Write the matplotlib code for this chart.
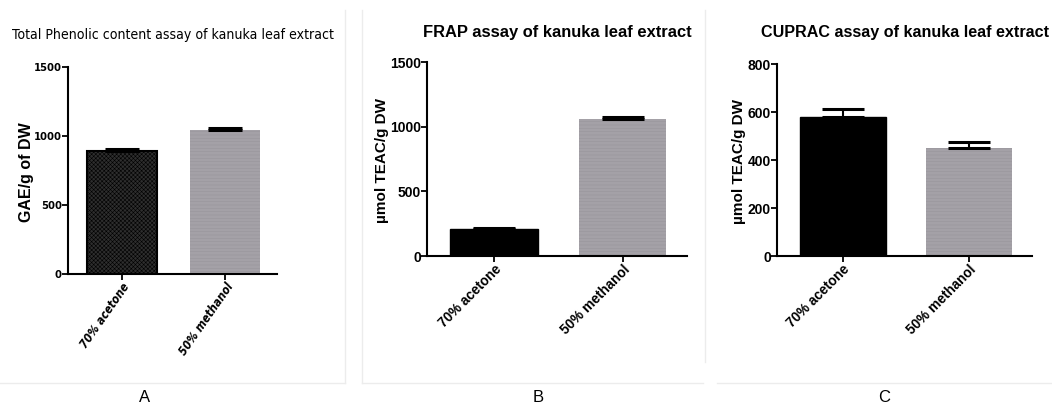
import matplotlib
matplotlib.use('Agg')
import matplotlib.pyplot as plt
from matplotlib.lines import Line2D

# data
groups = ['70% acetone', '50% methanol']
tpc_mean = [893, 1043]
tpc_err = [10, 13]
frap_mean = [207, 1057]
frap_err = [8, 20]
cuprac_mean = [580, 452]
cuprac_err = [32, 21]

dark = '#2e2e2e'
gray = '#a4a1a7'

W, H = 1052, 405
fig = plt.figure(figsize=(W / 100, H / 100), dpi=100)
plt.rcParams['hatch.linewidth'] = 0.4

def px_axes(x0, y0, x1, y1):
    # axes from pixel box (top-left origin)
    return fig.add_axes([x0 / W, 1 - y1 / H, (x1 - x0) / W, (y1 - y0) / H])

def style_axes(ax, ymax, yticks, tickfont, ticksize, rot, xfont, xsize, xstyle, stretch='normal'):
    for s in ['top', 'right']:
        ax.spines[s].set_visible(False)
    for s in ['left', 'bottom']:
        ax.spines[s].set_linewidth(1.5)
    ax.set_xlim(-0.52, 1.5)
    ax.set_ylim(0, ymax)
    ax.set_yticks(yticks)
    ax.set_xticks([0, 1])
    ax.tick_params(axis='both', direction='out', width=1.3, length=4, pad=0.5)
    ax.set_yticklabels([str(t) for t in yticks], family=tickfont, fontsize=ticksize,
                       fontweight='bold', fontstretch=stretch)
    ax.set_xticklabels(groups, rotation=rot, ha='right', rotation_mode='anchor',
                       family=xfont, fontsize=xsize, fontweight='bold', style=xstyle,
                       fontstretch=stretch)

cond = ['DejaVu Sans']
sans = ['Liberation Sans', 'DejaVu Sans']

# panel A
axA = px_axes(68, 67, 277, 274)
axA.bar([0], tpc_mean[:1], width=0.68, color=dark, edgecolor='black', linewidth=1.5,
        hatch='xxxxxxxx')
axA.bar([1], tpc_mean[1:], width=0.68, color=gray, edgecolor='#98959b', linewidth=0,
        hatch='-----')
axA.errorbar([0, 1], tpc_mean, yerr=[[0, 0], tpc_err], fmt='none', ecolor='black',
             elinewidth=1.5, capsize=12, capthick=2.2)
style_axes(axA, 1500, [0, 500, 1000, 1500], cond, 8, 55, cond, 8.5, 'italic', 'condensed')
axA.set_ylabel('GAE/g of DW', family=sans, fontsize=11.5, fontweight='bold')
axA.yaxis.set_label_coords(-0.165, 0.49)

# panel B
axB = px_axes(427, 62, 687, 256)
axB.bar([0], frap_mean[:1], width=0.68, color='black', edgecolor='black')
axB.bar([1], frap_mean[1:], width=0.68, color=gray, edgecolor='#98959b', linewidth=0,
        hatch='-----')
axB.errorbar([0, 1], frap_mean, yerr=[[0, 0], frap_err], fmt='none', ecolor='black',
             elinewidth=1.5, capsize=15, capthick=2.2)
style_axes(axB, 1500, [0, 500, 1000, 1500], sans, 10, 45, sans, 9.8, 'normal')
axB.set_ylabel('µmol TEAC/g DW', family=sans, fontsize=11, fontweight='bold')
axB.yaxis.set_label_coords(-0.148, 0.49)

# panel C
axC = px_axes(777, 64, 1032, 256)
axC.bar([0], cuprac_mean[:1], width=0.68, color='black', edgecolor='black')
axC.bar([1], cuprac_mean[1:], width=0.68, color=gray, edgecolor='#98959b', linewidth=0,
        hatch='-----')
axC.errorbar([0, 1], cuprac_mean, yerr=[[0, 0], cuprac_err], fmt='none', ecolor='black',
             elinewidth=1.5, capsize=15, capthick=2.2)
style_axes(axC, 800, [0, 200, 400, 600, 800], sans, 10, 45, sans, 9.8, 'normal')
axC.set_ylabel('µmol TEAC/g DW', family=sans, fontsize=11, fontweight='bold')
axC.yaxis.set_label_coords(-0.122, 0.49)

# titles
fig.text(173 / W, 1 - 35 / H, 'Total Phenolic content assay of kanuka leaf extract',
         ha='center', va='center', family=cond, fontsize=10.1, fontstretch='condensed')
fig.text(557 / W, 1 - 33 / H, 'FRAP assay of kanuka leaf extract',
         ha='center', va='center', family=sans, fontsize=11.9, fontweight='bold')
fig.text(905 / W, 1 - 33 / H, 'CUPRAC assay of kanuka leaf extract',
         ha='center', va='center', family=sans, fontsize=11.6, fontweight='bold')

# panel letters
for lab, x in [('A', 145), ('B', 538), ('C', 884)]:
    fig.text(x / W, 1 - 397 / H, lab, ha='center', va='center', family=sans, fontsize=12)

# faint frames around the panels
frame = '#ececec'
for (x0, y0, x1, y1) in [(345, 10, 345, 383), (0, 383, 345, 383),
                         (362, 10, 362, 383), (362, 383, 703, 383),
                         (705, 10, 705, 362), (717, 383, 1052, 383)]:
    fig.add_artist(Line2D([x0 / W, x1 / W], [1 - y0 / H, 1 - y1 / H],
                          transform=fig.transFigure, color=frame, lw=1))

fig.savefig('out.png', dpi=100)
